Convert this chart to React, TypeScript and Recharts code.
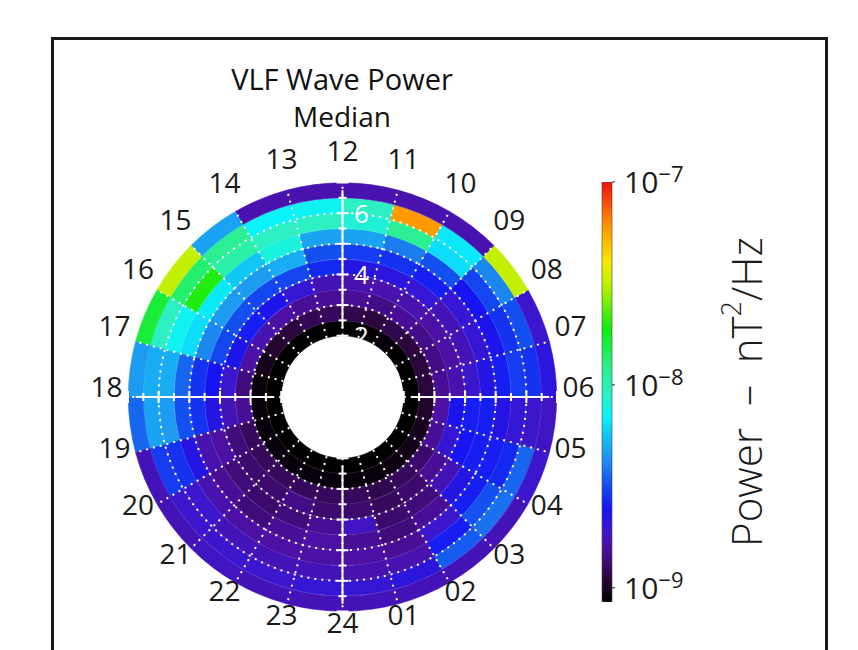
import React from 'react';
import {
  RadialBarChart, RadialBar, PolarAngleAxis, PolarRadiusAxis, PolarGrid, Cell,
  BarChart, Bar, XAxis, YAxis,
} from 'recharts';

// MLT sectors (start hour of each 1 h bin) and L bins (lower edge, 0.5 wide)
const MLT_HOURS = [0, 1, 2, 3, 4, 5, 6, 7, 8, 9, 10, 11, 12, 13, 14, 15, 16, 17, 18, 19, 20, 21, 22, 23];
const HOUR_TICKS = [1, 2, 3, 4, 5, 6, 7, 8, 9, 10, 11, 12, 13, 14, 15, 16, 17, 18, 19, 20, 21, 22, 23, 24];
const L_BINS = ['2.0', '2.5', '3.0', '3.5', '4.0', '4.5', '5.0', '5.5', '6.0', '6.5'];
const L_GRID = [3, 4, 5, 6];
const L_LABELS = [2, 4, 6];

// median wave power in units of 1e-9 nT^2/Hz, one list per L bin, indexed by MLT hour 0..23
const P_L20 = [0.8, 0.8, 0.8, 0.8, 0.8, 0.8, 0.8, 0.8, 0.8, 0.9, 0.8, 0.8, 0.8, 0.8, 0.8, 0.8, 0.8, 0.8, 0.8, 0.8, 0.8, 0.8, 0.8, 0.8];
const P_L25 = [0.9, 0.9, 0.92, 0.95, 1.0, 1.05, 1.13, 1.13, 1.13, 1.19, 1.13, 1.19, 1.25, 1.22, 1.13, 1.08, 0.98, 0.9, 0.9, 0.9, 0.9, 0.9, 0.9, 0.9];
const P_L30 = [1.25, 1.19, 1.25, 1.31, 1.51, 1.58, 1.51, 1.44, 1.44, 1.51, 1.44, 1.51, 1.51, 1.51, 1.58, 1.66, 1.58, 1.37, 1.51, 1.25, 1.25, 1.25, 1.25, 1.25];
const P_L35 = [1.31, 1.25, 1.31, 1.51, 2.01, 2.32, 1.66, 1.58, 1.58, 1.66, 1.66, 1.66, 1.74, 2.01, 2.32, 2.55, 2.32, 1.91, 1.74, 1.37, 1.31, 1.31, 1.44, 1.31];
const P_L40 = [1.82, 1.31, 1.37, 1.74, 2.43, 2.55, 1.91, 1.74, 1.74, 2.01, 2.11, 2.21, 2.67, 3.08, 3.08, 3.23, 3.08, 2.43, 2.21, 1.58, 1.37, 1.31, 1.37, 1.51];
const P_L45 = [1.51, 1.37, 1.51, 2.21, 2.55, 2.55, 2.21, 2.01, 2.01, 2.55, 2.8, 2.94, 3.23, 4.97, 4.51, 4.51, 4.1, 2.8, 2.8, 1.66, 1.51, 1.37, 1.51, 1.58];
const P_L50 = [1.58, 1.51, 1.91, 2.55, 2.55, 2.21, 2.55, 2.32, 2.43, 3.23, 3.91, 4.73, 4.73, 8.0, 5.73, 6.61, 6.3, 3.56, 3.23, 2.21, 1.66, 1.58, 1.58, 1.58];
const P_L55 = [1.66, 1.66, 2.55, 3.23, 2.67, 2.01, 2.94, 2.8, 3.08, 6.3, 11.7, 8.39, 9.2, 9.2, 10.6, 19.8, 7.27, 4.97, 4.51, 2.8, 1.91, 1.74, 1.74, 1.74];
const P_L60 = [2.01, 2.11, 3.39, 3.73, 3.56, 1.91, 2.8, 3.23, 4.1, 6.61, 59, 9.2, 7.27, 6.93, 11.7, 13.5, 9.2, 4.97, 4.73, 2.94, 1.91, 1.91, 1.91, 2.01];
const P_L65 = [1.74, 1.74, 1.74, 1.74, 1.91, 1.82, 2.11, 1.91, 31.8, 1.66, 1.66, 1.66, 1.66, 1.66, 4.73, 31.8, 16.3, 4.51, 3.56, 1.74, 1.74, 1.82, 1.74, 1.74];
const POWER_BY_BIN = [P_L20, P_L25, P_L30, P_L35, P_L40, P_L45, P_L50, P_L55, P_L60, P_L65];
const P_UNIT = 1e-9;

// colour bar
const CB_MIN = Math.pow(10, -9.07);
const CB_MAX = 1e-7;
const CB_TICKS = [1e-9, 1e-8, 1e-7];

// rainbow table (fraction of log range -> colour)
const STOPS: [number, string][] = [
  [0.0, '#000000'], [0.05, '#24052e'], [0.09, '#3c0a6c'], [0.13, '#4c10a4'],
  [0.17, '#3c16cc'], [0.22, '#1614f2'], [0.28, '#1450f0'], [0.34, '#1e92f0'],
  [0.4, '#12c6f6'], [0.44, '#08f4fa'], [0.5, '#2cf0c2'], [0.56, '#2af08a'],
  [0.65, '#10ec10'], [0.76, '#c4f000'], [0.81, '#fce800'], [0.89, '#ff9a00'],
  [1.0, '#f01010'],
];

const hex = (c: string) => [1, 3, 5].map((i) => parseInt(c.slice(i, i + 2), 16));

function powerColor(v: number) {
  const lo = Math.log10(CB_MIN), hi = Math.log10(CB_MAX);
  const f = Math.min(1, Math.max(0, (Math.log10(v * P_UNIT) - lo) / (hi - lo)));
  for (let i = 1; i < STOPS.length; i++) {
    const [f1, c1] = STOPS[i];
    if (f <= f1) {
      const [f0, c0] = STOPS[i - 1];
      const t = (f - f0) / (f1 - f0);
      const a = hex(c0), b = hex(c1);
      const m = a.map((x, k) => Math.round(x + (b[k] - x) * t));
      return `rgb(${m[0]},${m[1]},${m[2]})`;
    }
  }
  return STOPS[STOPS.length - 1][1];
}

const CX = 342.5;
const CY = 397;
const L_MAX = 7;
const R_OUT = 214.5;
const R_IN = (R_OUT * 2) / L_MAX;
const BAND = (R_OUT - R_IN) / L_BINS.length; // one 0.5 L ring
const lToR = (L: number) => (L / L_MAX) * R_OUT;
const FONT = '"Open Sans", "DejaVu Sans", sans-serif';

// each L bin row holds 24 one-hour spans, stacked round the dial
const rows = L_BINS.map((bin) => {
  const row: any = { bin };
  MLT_HOURS.forEach((h) => { row[`h${h}`] = 1; });
  return row;
});

const HourTick = ({ x, y, payload }: any) => (
  <text x={x} y={y} textAnchor="middle" fontSize={28} fill="#1a1a1a" fontFamily={FONT}>
    {String(payload.value).padStart(2, '0')}
  </text>
);

// radius axis ticks sit at ring centres; mark the ring edges instead
const AxisTick = ({ x, y, payload, index, axisAngle }: any) => {
  const rad = (axisAngle * Math.PI) / 180;
  const ux = Math.cos(rad), uy = -Math.sin(rad);
  const nx = Math.sin(rad), ny = Math.cos(rad);
  const L0 = parseFloat(payload.value);
  const edges = [[-BAND / 2, L0]];
  if (index === L_BINS.length - 1) edges.push([BAND / 2, L0 + 0.5]);
  return (
    <g>
      {edges.map(([d, L]) => {
        const px = x + ux * d, py = y + uy * d;
        const len = L % 1 === 0 ? 6 : 4;
        return (
          <g key={L}>
            <line x1={px - nx * len} y1={py - ny * len} x2={px + nx * len} y2={py + ny * len} stroke="#fff" strokeWidth={2} />
            {axisAngle === 90 && L_LABELS.includes(L) && (
              <text x={px + 19} y={py} dy="0.36em" textAnchor="middle" fontSize={26} fill="#fff" fontFamily={FONT}>
                {L}
              </text>
            )}
          </g>
        );
      })}
    </g>
  );
};

const CbTick = ({ x, y, payload }: any) => {
  const exp = Math.round(Math.log10(payload.value));
  return (
    <text x={x + 7} y={y + 11} fontSize={30} fill="#1a1a1a" fontFamily={FONT}>
      10<tspan dy={-11} fontSize={22}>{`\u2212${-exp}`}</tspan>
    </text>
  );
};

export default function App() {
  return (
    <div style={{ position: 'absolute', left: 0, top: 0, width: 858, height: 650, overflow: 'hidden', background: '#fff' }}>
      <div style={{ position: 'absolute', left: 51, top: 37, width: 777, height: 720, border: '3px solid #1a1a1a', boxSizing: 'border-box' }} />

      <svg width={858} height={650} style={{ position: 'absolute', left: 0, top: 0 }}>
        <text x={342} y={90} textAnchor="middle" fontSize={29} fill="#111" fontFamily={FONT}>VLF Wave Power</text>
        <text x={342} y={127} textAnchor="middle" fontSize={28} fill="#111" fontFamily={FONT}>Median</text>
        <text
          transform="translate(745,392) rotate(-90)"
          textAnchor="middle"
          dominantBaseline="central"
          fontSize={42}
          fontWeight={300}
          fill="#1a1a1a"
          fontFamily={FONT}
          style={{ whiteSpace: 'pre' }}
        >
          {'Power  \u2013  nT'}
          <tspan dy={-15} fontSize={27}>2</tspan>
          <tspan dy={15}>/Hz</tspan>
        </text>
      </svg>

      <div style={{ position: 'absolute', left: 0, top: 0 }}>
        <RadialBarChart
          width={700}
          height={650}
          data={rows}
          cx={CX}
          cy={CY}
          innerRadius={R_IN}
          outerRadius={R_OUT}
          startAngle={-90}
          endAngle={270}
          barCategoryGap={0}
          barGap={0}
          margin={{ top: 0, right: 0, bottom: 0, left: 0 }}
        >
          <PolarAngleAxis
            type="number"
            domain={[0, 24]}
            ticks={HOUR_TICKS}
            tick={<HourTick />}
            tickLine={false}
            axisLine={false}
            tickSize={21.5}
          />
          <PolarRadiusAxis radiusAxisId={0} type="category" dataKey="bin" tick={false} axisLine={false} />
          {MLT_HOURS.map((h) => (
            <RadialBar key={h} dataKey={`h${h}`} stackId="mlt" isAnimationActive={false}>
              {rows.map((_, i) => {
                const c = powerColor(POWER_BY_BIN[i][h]);
                return <Cell key={i} fill={c} stroke={c} strokeWidth={0.6} />;
              })}
            </RadialBar>
          ))}
          <PolarGrid
            gridType="circle"
            polarRadius={L_GRID.map(lToR)}
            stroke="#fff"
            strokeWidth={2}
            strokeDasharray="2 5"
            zIndex={600}
          />
          {[0, 90, 180, 270].map((a) => (
            <PolarRadiusAxis
              key={a}
              radiusAxisId={`ax${a}`}
              angle={a}
              type="category"
              dataKey="bin"
              axisLine={{ stroke: '#fff', strokeWidth: 2 }}
              tick={(p: any) => <AxisTick {...p} axisAngle={a} />}
            />
          ))}
        </RadialBarChart>
      </div>

      <div style={{ position: 'absolute', left: 590, top: 140 }}>
        <BarChart
          width={122}
          height={490}
          data={[{ name: 'cb', top: CB_MAX }]}
          margin={{ top: 42, right: 0, bottom: 28, left: 12 }}
          barCategoryGap={0}
        >
          <defs>
            <linearGradient id="cbGrad" x1="0" y1="1" x2="0" y2="0">
              {STOPS.map(([f, c]) => <stop key={f} offset={f} stopColor={c} />)}
            </linearGradient>
          </defs>
          <XAxis dataKey="name" hide />
          <YAxis
            orientation="right"
            scale="log"
            domain={[CB_MIN, CB_MAX]}
            allowDataOverflow
            ticks={CB_TICKS}
            interval={0}
            width={100}
            tickSize={3}
            tickLine={{ stroke: '#222' }}
            axisLine={false}
            tick={<CbTick />}
          />
          <Bar dataKey="top" fill="url(#cbGrad)" stroke="#444" strokeWidth={0.6} isAnimationActive={false} />
        </BarChart>
      </div>
    </div>
  );
}
